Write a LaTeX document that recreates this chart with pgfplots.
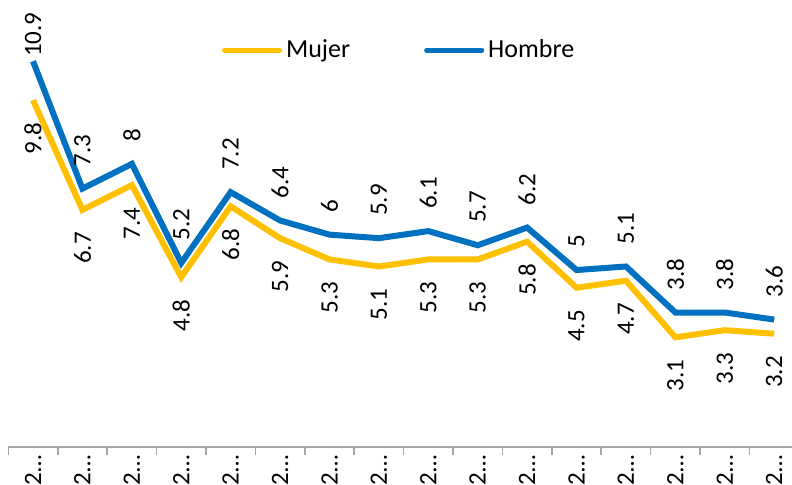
\documentclass[border=0pt]{standalone}
\usepackage{fontspec}
\setmainfont{Carlito}
\usepackage{pgfplots}
\pgfplotsset{compat=1.18}
\definecolor{mujer}{HTML}{FFC000}
\definecolor{hombre}{HTML}{0070C0}
\definecolor{axgray}{HTML}{A6A6A6}

\begin{document}
\begin{tikzpicture}
\begin{axis}[
  scale only axis,
  width=391.85pt, height=223.5pt,
  xmin=-0.5, xmax=15.36,
  ymin=0, ymax=12.63,
  clip=false,
  hide y axis,
  axis x line*=bottom,
  x axis line style={draw=axgray, line width=0.8pt},
  xtick={0,...,15},
  xticklabels={2…,2…,2…,2…,2…,2…,2…,2…,2…,2…,2…,2…,2…,2…,2…,2…},
  major tick length=0pt,
  tick align=outside,
  extra x ticks={-0.5,0.5,...,14.5},
  extra x tick labels={},
  extra x tick style={major tick length=4pt, tick style={draw=axgray, line width=0.8pt}},
  xticklabel style={rotate=90, anchor=east, font=\fontsize{12.5}{15}\selectfont, inner sep=4pt},
  /pgf/number format/assume math mode=true,
  legend columns=2,
  legend style={at={(0.5,0.888)}, anchor=center, draw=none, fill=none,
    font=\fontsize{13}{15}\selectfont,
    /tikz/every even column/.append style={column sep=35pt}},
  legend image code/.code={\draw[line width=2.5pt, line cap=round] (0pt,0pt) -- (27.5pt,0pt);},
]

% lines
\addplot[mujer, line width=3pt] coordinates {
  (0,9.8) (1,6.7) (2,7.4) (3,4.8) (4,6.8) (5,5.9) (6,5.3) (7,5.1)
  (8,5.3) (9,5.3) (10,5.8) (11,4.5) (12,4.7) (13,3.1) (14,3.3) (15,3.2)
};
\addlegendentry{Mujer}
\addplot[hombre, line width=3pt] coordinates {
  (0,10.9) (1,7.3) (2,8) (3,5.2) (4,7.2) (5,6.4) (6,6) (7,5.9)
  (8,6.1) (9,5.7) (10,6.2) (11,5) (12,5.1) (13,3.8) (14,3.8) (15,3.6)
};
\addlegendentry{Hombre}

% data labels
\addplot[draw=none, mark=none, forget plot, nodes near coords,
  nodes near coords style={rotate=90, anchor=east, inner xsep=11pt,
    font=\fontsize{12.5}{15}\selectfont, text=black}] coordinates {
  (0,9.8) (1,6.7) (2,7.4) (3,4.8) (4,6.8) (5,5.9) (6,5.3) (7,5.1)
  (8,5.3) (9,5.3) (10,5.8) (11,4.5) (12,4.7) (13,3.1) (14,3.3) (15,3.2)
};
\addplot[draw=none, mark=none, forget plot, nodes near coords,
  nodes near coords style={rotate=90, anchor=west, inner xsep=11pt,
    font=\fontsize{12.5}{15}\selectfont, text=black}] coordinates {
  (1,7.3) (2,8) (3,5.2) (4,7.2) (5,6.4) (6,6) (7,5.9)
  (8,6.1) (9,5.7) (10,6.2) (11,5) (12,5.1) (13,3.8) (14,3.8) (15,3.6)
};
\addplot[draw=none, mark=none, forget plot, nodes near coords,
  nodes near coords style={rotate=90, anchor=west, inner xsep=2pt,
    font=\fontsize{12.5}{15}\selectfont, text=black}] coordinates {
  (0,10.9)
};
\end{axis}
\pgfresetboundingbox
\path (current axis.south west) ++(-4.15pt,-19pt) rectangle (current axis.north east);
\end{tikzpicture}
\end{document}
